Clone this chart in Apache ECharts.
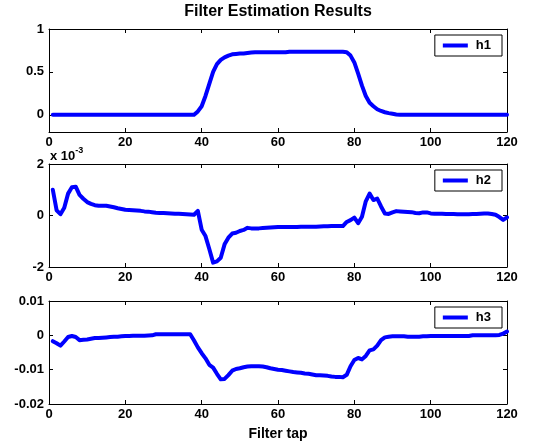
<!DOCTYPE html>
<html>
<head>
<meta charset="utf-8">
<script src="https://cdn.jsdelivr.net/npm/echarts@6/dist/echarts.min.js"></script>
<style>
  html, body { margin: 0; padding: 0; background: #fff; }
</style>
</head>
<body>
<div id="main" style="width:542px;height:444px"></div>
<script>
// filter tap index
const taps = Array.from({ length: 120 }, (_, i) => i + 1);

const h1 = [
  0, 0, 0, 0, 0, 0, 0, 0, 0, 0,
  0, 0, 0, 0, 0, 0, 0, 0, 0, 0,
  0, 0, 0, 0, 0, 0, 0, 0, 0, 0,
  0, 0, 0, 0, 0, 0, 0, 0, 0.04, 0.10,
  0.22, 0.36, 0.50, 0.59, 0.64, 0.67, 0.69, 0.705, 0.71, 0.715,
  0.715, 0.72, 0.725, 0.73, 0.73, 0.73, 0.73, 0.73, 0.73, 0.73,
  0.73, 0.73, 0.735, 0.735, 0.735, 0.735, 0.735, 0.735, 0.735, 0.735,
  0.735, 0.735, 0.735, 0.735, 0.735, 0.735, 0.735, 0.73, 0.69, 0.61,
  0.48, 0.34, 0.22, 0.14, 0.10, 0.065, 0.045, 0.03, 0.02, 0.012,
  0.005, 0, 0, 0, 0, 0, 0, 0, 0, 0,
  0, 0, 0, 0, 0, 0, 0, 0, 0, 0,
  0, 0, 0, 0, 0, 0, 0, 0, 0, 0
];

// h2 in units of 1e-3
const h2 = [
  1.0, 0.2, 0.05, 0.3, 0.85, 1.1, 1.12, 0.8, 0.65, 0.52,
  0.45, 0.4, 0.38, 0.38, 0.38, 0.35, 0.32, 0.28, 0.25, 0.22,
  0.21, 0.2, 0.19, 0.18, 0.16, 0.15, 0.13, 0.11, 0.1, 0.1,
  0.09, 0.08, 0.07, 0.07, 0.06, 0.05, 0.04, 0.03, 0.18, -0.55,
  -0.8, -1.3, -1.83, -1.78, -1.64, -1.12, -0.86, -0.7, -0.67, -0.6,
  -0.56, -0.48, -0.5, -0.5, -0.5, -0.49, -0.48, -0.47, -0.46, -0.45,
  -0.45, -0.45, -0.45, -0.45, -0.45, -0.44, -0.44, -0.44, -0.44, -0.44,
  -0.43, -0.42, -0.42, -0.41, -0.41, -0.41, -0.41, -0.25, -0.18, -0.08,
  -0.3, -0.05, 0.55, 0.85, 0.6, 0.66, 0.35, 0.08, 0.06, 0.12,
  0.17, 0.16, 0.15, 0.14, 0.13, 0.1, 0.09, 0.12, 0.12, 0.08,
  0.07, 0.07, 0.07, 0.06, 0.06, 0.06, 0.05, 0.05, 0.05, 0.05,
  0.06, 0.06, 0.07, 0.08, 0.08, 0.06, 0.03, -0.06, -0.17, -0.07
];

const h3 = [
  -0.0017, -0.0023, -0.0030, -0.0018, -0.0005, -0.0002, -0.0005, -0.0014, -0.0013, -0.0012,
  -0.0010, -0.0008, -0.0008, -0.0007, -0.0006, -0.0005, -0.0004, -0.0004, -0.0003, -0.0002,
  -0.0002, -0.00015, -0.0001, -0.0001, -0.0001, -0.00005, 0, 0.0003, 0.0003, 0.0003,
  0.0003, 0.0003, 0.0003, 0.0003, 0.0003, 0.0003, 0.0003, -0.0015, -0.0035, -0.0052,
  -0.0067, -0.0086, -0.0094, -0.0112, -0.0128, -0.0127, -0.0116, -0.0103, -0.0098, -0.0096,
  -0.0093, -0.0091, -0.0090, -0.0090, -0.0090, -0.0091, -0.0093, -0.0096, -0.0098, -0.0100,
  -0.0101, -0.0103, -0.0105, -0.0107, -0.0108, -0.0109, -0.0111, -0.0112, -0.0114, -0.0116,
  -0.0116, -0.0117, -0.0118, -0.0120, -0.0121, -0.0121, -0.0122, -0.0115, -0.0090, -0.0072,
  -0.0066, -0.0070, -0.0060, -0.0044, -0.0041, -0.0030, -0.0014, -0.0006, -0.0004, -0.0003,
  -0.0003, -0.0003, -0.0003, -0.0004, -0.0004, -0.0004, -0.0004, -0.0003, -0.0003, -0.0002,
  -0.0002, -0.0002, -0.0002, -0.0002, -0.0002, -0.0002, -0.0002, -0.0002, -0.0002, -0.0002,
  0, 0, 0, 0, 0, 0, 0, 0.0001, 0.0005, 0.0011
];

const names = ['h1', 'h2', 'h3'];
const yRanges = [[-0.2, 1], [-2, 2], [-0.02, 0.01]];
const yTicks = [[0, 0.5, 1], [-2, 0, 2], [-0.02, -0.01, 0, 0.01]];

const font = 'Liberation Sans, Arial, Helvetica, sans-serif';
const blue = '#0000ff';
const tops = [29, 164, 301];

const chart = echarts.init(document.getElementById('main'));

function xAx(i, pos, labels) {
  return {
    type: 'value', gridIndex: i, position: pos,
    min: 0, max: 120, interval: 20,
    axisLine: { show: true, onZero: false, lineStyle: { color: '#000', width: 1 } },
    axisTick: { show: true, inside: true, length: 4, lineStyle: { color: '#000' } },
    axisLabel: { show: labels, color: '#000', fontFamily: font, fontWeight: 'bold', fontSize: 13, margin: 4 },
    splitLine: { show: false }
  };
}

function yAx(i, pos, labels) {
  return {
    type: 'value', gridIndex: i, position: pos,
    min: yRanges[i][0], max: yRanges[i][1],
    axisLine: { show: true, onZero: false, lineStyle: { color: '#000', width: 1 } },
    axisTick: { show: true, inside: true, length: 4, lineStyle: { color: '#000' }, customValues: yTicks[i] },
    axisLabel: { show: labels, color: '#000', fontFamily: font, fontWeight: 'bold', fontSize: 13, margin: 5, customValues: yTicks[i] },
    splitLine: { show: false }
  };
}

const xAxes = [], yAxes = [];
[0, 1, 2].forEach(i => {
  xAxes.push(xAx(i, 'bottom', true), xAx(i, 'top', false));
  yAxes.push(yAx(i, 'left', true), yAx(i, 'right', false));
});

// axis name on bottom plot
xAxes[4].name = 'Filter tap';
xAxes[4].nameLocation = 'middle';
xAxes[4].nameGap = 23;
xAxes[4].nameTextStyle = { color: '#000', fontFamily: font, fontWeight: 'bold', fontSize: 14 };

const seriesData = [h1, h2, h3];

chart.setOption({
  animation: false,
  backgroundColor: '#fff',
  title: {
    text: 'Filter Estimation Results',
    left: 278, top: 4, padding: 0, textAlign: 'center',
    textStyle: { color: '#000', fontFamily: font, fontWeight: 'bold', fontSize: 16 }
  },
  // exponent label of the middle plot
  graphic: [{
    type: 'text', left: 50, top: 146,
    style: {
      text: '{a|x 10}{b|-3}',
      rich: {
        a: { fill: '#000', fontFamily: font, fontWeight: 'bold', fontSize: 13, lineHeight: 17, verticalAlign: 'bottom' },
        b: { fill: '#000', fontFamily: font, fontWeight: 'bold', fontSize: 9, lineHeight: 5, verticalAlign: 'top' }
      }
    }
  }],
  grid: tops.map(t => ({ left: 49, right: 35, top: t, height: 103 })),
  xAxis: xAxes,
  yAxis: yAxes,
  legend: names.map((n, i) => ({
    data: [n],
    right: 40, top: tops[i] + 6,
    orient: 'vertical',
    icon: 'rect', itemWidth: 25, itemHeight: 4,
    backgroundColor: '#fff',
    borderColor: '#000', borderWidth: 1, borderRadius: 0,
    padding: [4, 11, 4, 8],
    textStyle: { color: '#000', fontFamily: font, fontWeight: 'bold', fontSize: 13, padding: [0, 0, 0, 3] }
  })),
  series: names.map((n, i) => ({
    name: n,
    type: 'line',
    xAxisIndex: 2 * i, yAxisIndex: 2 * i,
    data: taps.map((t, k) => [t, seriesData[i][k]]),
    showSymbol: false, symbol: 'none',
    itemStyle: { color: blue },
    lineStyle: { color: blue, width: 4, cap: 'round', join: 'round' }
  }))
});
</script>
</body>
</html>
